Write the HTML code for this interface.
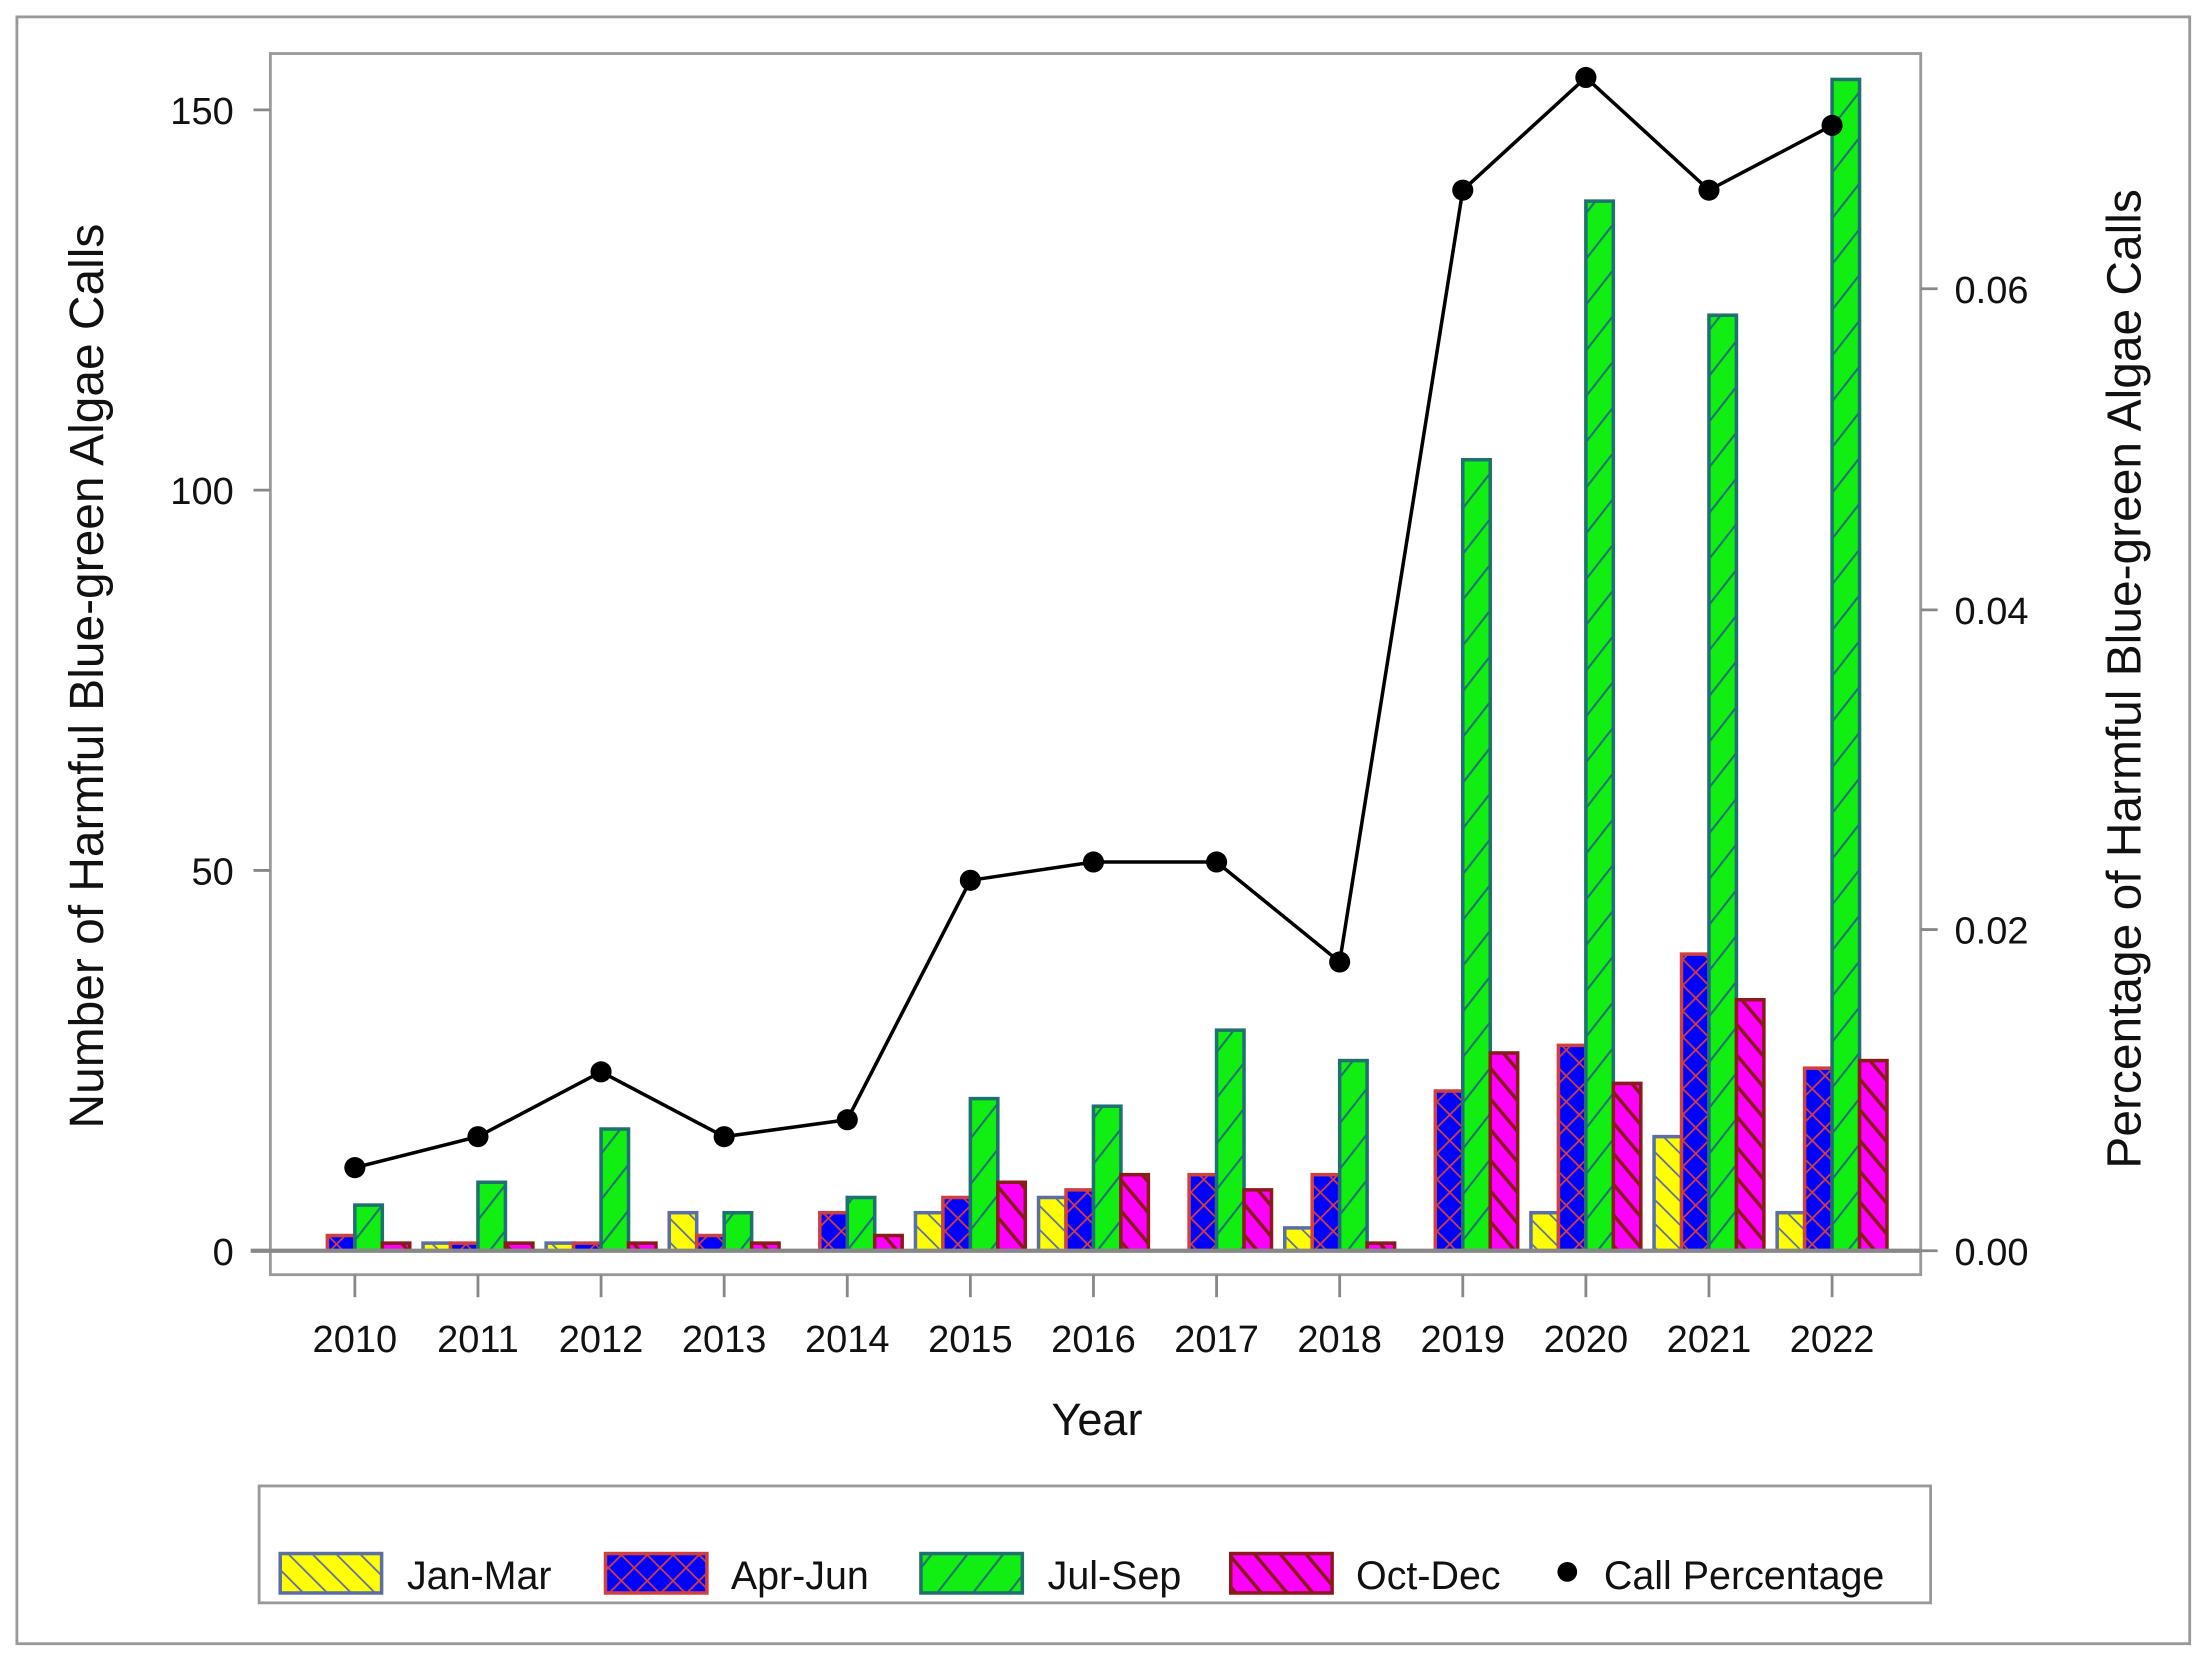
<!DOCTYPE html>
<html><head><meta charset="utf-8"><style>
html,body{margin:0;padding:0;background:#fff;}
svg{display:block;}
text{font-family:"Liberation Sans",sans-serif;fill:#111;}
</style></head><body>
<svg id="s" width="2208" height="1662" viewBox="0 0 1568 1180" preserveAspectRatio="none" xmlns="http://www.w3.org/2000/svg">
<defs>
<pattern id="pJ" patternUnits="userSpaceOnUse" width="12" height="12" patternTransform="rotate(-45)">
<rect width="12" height="12" fill="#ffff00"/><line x1="0" y1="0" x2="0" y2="12" stroke="#5a6fa8" stroke-width="2.5"/></pattern>
<pattern id="pA" patternUnits="userSpaceOnUse" width="13" height="13" patternTransform="rotate(45)">
<rect width="13" height="13" fill="#0000ff"/><line x1="0" y1="0" x2="0" y2="13" stroke="#d04040" stroke-width="2.5"/><line x1="0" y1="0" x2="13" y2="0" stroke="#d04040" stroke-width="2.5"/></pattern>
<pattern id="pG" patternUnits="userSpaceOnUse" width="20" height="20" patternTransform="rotate(38)">
<rect width="20" height="20" fill="#11ee11"/><line x1="0" y1="0" x2="0" y2="20" stroke="#1f7070" stroke-width="3"/></pattern>
<pattern id="pO" patternUnits="userSpaceOnUse" width="14" height="14" patternTransform="rotate(-40)">
<rect width="14" height="14" fill="#ff00ff"/><line x1="0" y1="0" x2="0" y2="14" stroke="#8b1a1a" stroke-width="5"/></pattern>
</defs>
<rect x="12" y="12" width="1543" height="1155" fill="#fff" stroke="#999" stroke-width="2"/>
<rect x="192" y="38" width="1172" height="867" fill="#fff" stroke="#999" stroke-width="2"/>
<g id="bars"></g>
<line x1="178" y1="888" x2="1364" y2="888" stroke="#888" stroke-width="3"/>
<g stroke="#888" stroke-width="2">
<line x1="180" y1="78" x2="192" y2="78"/><line x1="180" y1="348" x2="192" y2="348"/><line x1="180" y1="618" x2="192" y2="618"/>
<line x1="1364" y1="205" x2="1376" y2="205"/><line x1="1364" y1="433" x2="1376" y2="433"/><line x1="1364" y1="660" x2="1376" y2="660"/><line x1="1364" y1="888" x2="1376" y2="888"/>
</g>
<g id="ticks" stroke="#888" stroke-width="2"></g>
<g font-size="27" text-anchor="end">
<text x="166" y="88">150</text><text x="166" y="358">100</text><text x="166" y="628">50</text><text x="166" y="898">0</text>
</g>
<g font-size="27" text-anchor="start">
<text x="1388" y="215">0.06</text><text x="1388" y="443">0.04</text><text x="1388" y="670">0.02</text><text x="1388" y="898">0.00</text>
</g>
<g id="years" font-size="27" text-anchor="middle"></g>
<text x="779" y="1019" font-size="32" text-anchor="middle">Year</text>
<text transform="translate(73,480) rotate(-90)" font-size="34" text-anchor="middle">Number of Harmful Blue-green Algae Calls</text>
<text transform="translate(1520,482) rotate(-90)" font-size="34" text-anchor="middle">Percentage of Harmful Blue-green Algae Calls</text>
<polyline id="line" fill="none" stroke="#000" stroke-width="2.5"/>
<g id="dots"></g>
<rect x="184" y="1055" width="1187" height="83" fill="#fff" stroke="#999" stroke-width="2"/>
<rect x="199" y="1103" width="72" height="28" fill="url(#pJ)" stroke="#5a6fa8" stroke-width="2.5"/>
<text x="289" y="1128" font-size="28">Jan-Mar</text>
<rect x="430" y="1103" width="72" height="28" fill="url(#pA)" stroke="#d04040" stroke-width="2.5"/>
<text x="519" y="1128" font-size="28">Apr-Jun</text>
<rect x="654" y="1103" width="72" height="28" fill="url(#pG)" stroke="#1f7070" stroke-width="2.5"/>
<text x="744" y="1128" font-size="28">Jul-Sep</text>
<rect x="874" y="1103" width="72" height="28" fill="url(#pO)" stroke="#8b1a1a" stroke-width="2.5"/>
<text x="963" y="1128" font-size="28">Oct-Dec</text>
<circle cx="1113" cy="1116" r="7" fill="#000"/>
<text x="1139" y="1128" font-size="28">Call Percentage</text>
</svg>
<script>
var NS="http://www.w3.org/2000/svg";
var data=[[0,2,6,1],[1,1,9,1],[1,1,16,1],[5,2,5,1],[0,5,7,2],[5,7,20,9],[7,8,19,10],[0,10,29,8],[3,10,25,1],[0,21,104,26],[5,27,138,22],[15,39,123,33],[5,24,154,25]];
var pct=[829,807,761,807,795,625,612,612,683,135,55,135,89];
var fills=["url(#pJ)","url(#pA)","url(#pG)","url(#pO)"],strokes=["#5a6fa8","#d04040","#1f7070","#8b1a1a"];
var bars=document.getElementById("bars"),ticks=document.getElementById("ticks"),years=document.getElementById("years"),dots=document.getElementById("dots");
var pts=[];
function el(n,a,p){var e=document.createElementNS(NS,n);for(var k in a)e.setAttribute(k,a[k]);p.appendChild(e);return e;}
for(var i=0;i<13;i++){
 var cx=252+i*87.42;
 for(var j=0;j<4;j++){var v=data[i][j];if(!v)continue;var h=v*5.4;
  el("rect",{x:cx-39+j*19.5,y:888-h,width:19.5,height:h,fill:fills[j],stroke:strokes[j],"stroke-width":2.5},bars);}
 el("line",{x1:cx,y1:905,x2:cx,y2:921},ticks);
 var t=el("text",{x:cx,y:960},years);t.textContent=2010+i;
 pts.push(cx+","+pct[i]);
 el("circle",{cx:cx,cy:pct[i],r:7.5,fill:"#000"},dots);
}
document.getElementById("line").setAttribute("points",pts.join(" "));
</script>
</body></html>
